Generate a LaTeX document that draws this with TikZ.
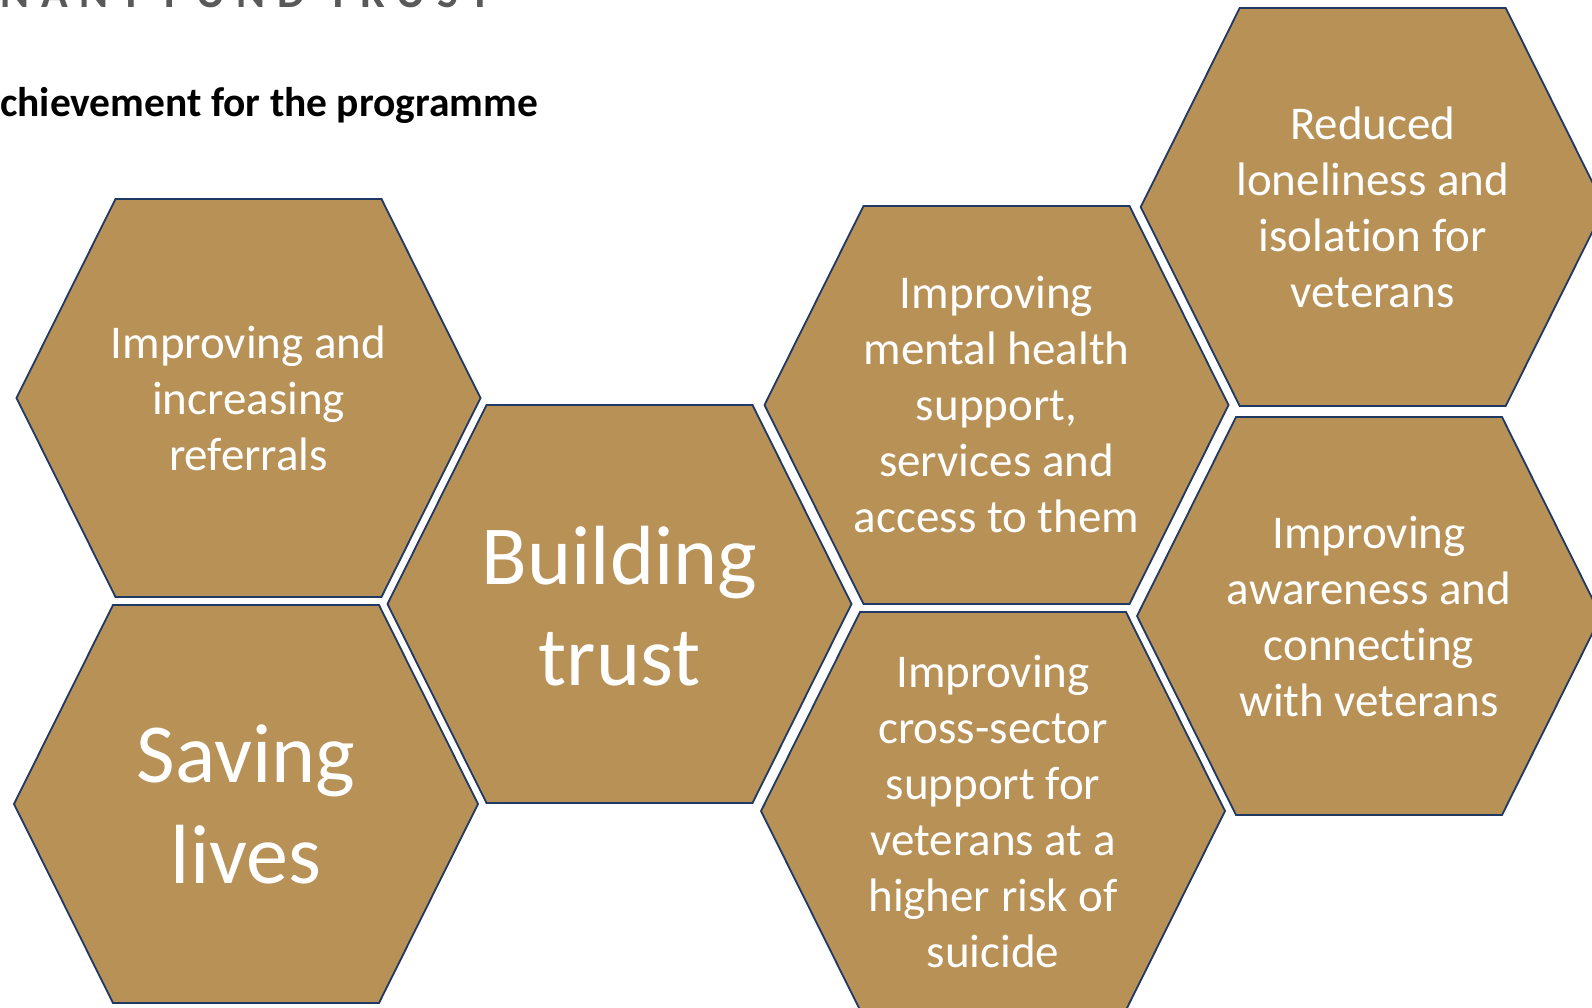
\documentclass[tikz,border=0pt]{standalone}
\usepackage{fontspec}
\setmainfont{Carlito}[Ligatures=NoCommon]
\newfontfamily\spacedfont{Carlito}[LetterSpace=27,Ligatures=NoCommon]

\definecolor{hexgold}{RGB}{184,145,87}
\definecolor{hexedge}{RGB}{31,56,100}
\definecolor{headgrey}{RGB}{89,89,89}

\tikzset{
  hexcell/.style={fill=hexgold,draw=hexedge,line width=1.8pt,line join=miter},
  hextext/.style={text=white,align=center,inner sep=0pt,font=\fontsize{47}{56}\selectfont},
  hexbig/.style={text=white,align=center,inner sep=0pt,font=\fontsize{84}{101}\selectfont}
}

% one honeycomb cell around a centre (pixel units)
\newcommand{\hexcellat}[2]{%
  \draw[hexcell] (#1,#2) ++(-232,0) -- ++(99,-199) -- ++(266,0) -- ++(99,199)
    -- ++(-99,199) -- ++(-266,0) -- cycle;}

\begin{document}
\begin{tikzpicture}[x=1pt,y=-1pt]
\clip (0,0) rectangle (1592,1008);

% Heading
\node[anchor=base west,inner sep=0pt,text=headgrey,font=\spacedfont\bfseries\fontsize{44}{52}\selectfont] (fund) at (0,8) {NANT FUND TRUST};
\node[anchor=base west,inner sep=0pt,font=\bfseries\fontsize{41.5}{50}\selectfont] (title) at (0,117) {chievement for the programme};

% Cells
\hexcellat{248.5}{398}   % left column
\hexcellat{246}{804}
\hexcellat{619.5}{604}   % middle
\hexcellat{996.5}{405}   % third column
\hexcellat{993}{811}
\hexcellat{1372.7}{207}  % right column
\hexcellat{1369}{616}

% Writing
\node[hextext] (referrals) at (248.5,398) {Improving and\\increasing\\referrals};
\node[hexbig] (lives) at (246,804) {Saving\\lives};
\node[hexbig] (trust) at (619.5,606) {Building\\trust};
\node[hextext] (mental) at (996.5,405) {Improving\\mental health\\support,\\services and\\access to them};
\node[hextext] (cross) at (993,811) {Improving\\cross-sector\\support for\\veterans at a\\higher risk of\\suicide};
\node[hextext] (lonely) at (1372.7,207) {Reduced\\loneliness and\\isolation for\\veterans};
\node[hextext] (aware) at (1369,616) {Improving\\awareness and\\connecting\\with veterans};
\end{tikzpicture}
\end{document}
